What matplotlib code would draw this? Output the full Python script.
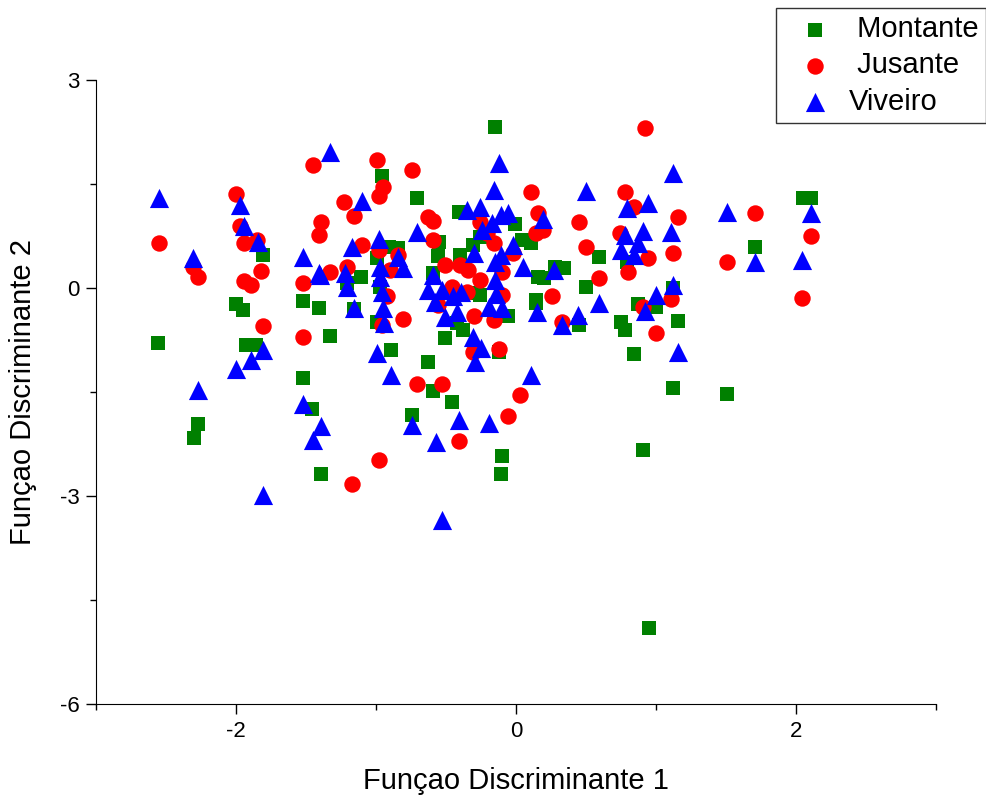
import numpy as np
import matplotlib
matplotlib.use("Agg")
from matplotlib import pyplot as plt
from matplotlib.ticker import MultipleLocator

plt.rcParams['font.family'] = ['Liberation Sans', 'DejaVu Sans']
plt.rcParams['axes.unicode_minus'] = False

# Escores das funcoes discriminantes por local
montante_x = [-2.56, -2.30, -2.27, -2.00, -1.95, -1.93, -1.86, -1.81, -1.52, -1.52,
              -1.46, -1.41, -1.39, -1.33, -1.16, -1.11, -1.21, -0.97, -0.99, -0.91,
              -0.84, -0.96, -0.71, -0.41, -0.15, -0.01, -0.56, -0.55, -0.40, -0.31,
              -0.26, -0.59, -0.28, -0.26, -0.99, -0.89, -0.63, -0.59, -0.46, -0.74,
              -0.51, -0.38, -0.42, -0.06, -0.12, -0.10, -0.11, 0.04, 0.11, 0.16,
              0.20, 0.28, 0.34, 0.50, 0.59, 0.79, 1.12, 0.14, 0.14, 0.45,
              0.87, 1.00, 0.75, 0.78, 1.16, 0.84, 1.12, 0.91, 0.95, 1.51,
              1.71, 2.05, 2.11]
montante_y = [-0.79, -2.16, -1.96, -0.23, -0.32, -0.82, -0.82, 0.48, -0.19, -1.30,
              -1.75, -0.29, -2.68, -0.69, -0.31, 0.16, 0.07, 0.01, 0.43, 0.59,
              0.57, 1.62, 1.30, 1.10, 2.32, 0.92, 0.46, 0.67, 0.48, 0.62,
              0.74, 0.21, -0.07, -0.10, -0.49, -0.89, -1.07, -1.49, -1.64, -1.83,
              -0.72, -0.61, -0.50, -0.40, -0.92, -2.42, -2.68, 0.69, 0.65, 0.16,
              0.14, 0.30, 0.29, 0.01, 0.45, 0.38, 0.00, -0.17, -0.22, -0.53,
              -0.23, -0.27, -0.49, -0.61, -0.48, -0.95, -1.44, -2.34, -4.90, -1.53,
              0.59, 1.30, 1.30]

jusante_x = [-2.55, -2.31, -2.27, -2.00, -1.97, -1.94, -1.85, -1.82, -1.94, -1.89,
             -1.81, -1.52, -1.52, -1.45, -1.39, -1.41, -1.33, -1.23, -1.16, -1.21,
             -1.10, -0.99, -0.95, -0.98, -0.74, -0.63, -0.59, -0.59, -0.98, -0.90,
             -0.84, -0.26, -0.21, -0.16, -0.02, -0.40, -0.34, -0.26, -0.51, -0.10,
             -0.46, -0.92, -0.96, -0.81, -0.56, -0.35, -0.30, -0.16, -0.31, -0.12,
             -0.10, -0.71, -0.53, -0.06, 0.03, -0.41, -0.98, -1.17, 0.11, 0.16,
             0.14, 0.19, 0.45, 0.50, 0.59, 0.26, 0.33, 0.92, 0.78, 0.84,
             1.16, 0.74, 0.94, 1.12, 0.80, 0.91, 1.11, 1.00, 1.51, 1.71,
             2.11, 2.04]
jusante_y = [0.65, 0.30, 0.16, 1.36, 0.90, 0.65, 0.69, 0.25, 0.10, 0.04,
             -0.55, -0.71, 0.07, 1.77, 0.95, 0.76, 0.23, 1.24, 1.04, 0.30,
             0.62, 1.85, 1.46, 1.33, 1.70, 1.02, 0.97, 0.69, 0.55, 0.26,
             0.48, 0.95, 0.79, 0.65, 0.50, 0.33, 0.26, 0.12, 0.33, 0.23,
             0.01, -0.12, -0.53, -0.45, -0.25, -0.06, -0.40, -0.46, -0.92, -0.88,
             -0.10, -1.38, -1.38, -1.85, -1.54, -2.21, -2.48, -2.82, 1.38, 1.08,
             0.79, 0.84, 0.95, 0.59, 0.14, -0.12, -0.49, 2.31, 1.38, 1.17,
             1.02, 0.79, 0.43, 0.50, 0.23, -0.27, -0.16, -0.65, 0.38, 1.08,
             0.75, -0.15]

viveiro_x = [-2.55, -2.31, -1.97, -1.94, -1.84, -2.27, -2.00, -1.89, -1.81, -1.81,
             -1.52, -1.41, -1.33, -1.52, -1.39, -1.45, -1.10, -1.17, -1.22, -1.21,
             -1.16, -0.98, -0.97, -0.97, -0.81, -0.84, -0.96, -0.95, -0.94, -0.99,
             -0.89, -0.74, -0.57, -0.53, -0.41, -0.19, -0.71, -0.35, -0.26, -0.12,
             -0.16, -0.11, -0.06, -0.17, -0.24, -0.02, -0.30, -0.15, -0.11, -0.59,
             -0.15, -0.63, -0.53, -0.39, -0.45, -0.14, -0.58, -0.51, -0.42, -0.19,
             -0.10, -0.31, -0.25, -0.29, 0.05, 0.19, 0.27, 0.50, 0.79, 0.94,
             1.12, 0.78, 0.91, 1.11, 0.87, 0.75, 0.84, 0.15, 0.44, 0.33,
             0.59, 0.92, 1.00, 1.12, 1.16, 0.11, 1.51, 1.71, 2.04, 2.11,
             -1.40]
viveiro_y = [1.30, 0.43, 1.20, 0.90, 0.66, -1.47, -1.17, -1.04, -0.89, -2.99,
             0.45, 0.22, 1.96, -1.67, -1.99, -2.19, 1.25, 0.59, 0.22, 0.01,
             -0.29, 0.70, 0.30, 0.16, 0.29, 0.45, -0.06, -0.29, -0.50, -0.94,
             -1.25, -1.98, -2.22, -3.35, -1.90, -1.95, 0.81, 1.13, 1.17, 1.80,
             1.41, 1.05, 1.08, 0.94, 0.84, 0.62, 0.50, 0.38, 0.48, 0.19,
             0.12, -0.03, -0.03, -0.06, -0.12, -0.08, -0.20, -0.42, -0.35, -0.27,
             -0.29, -0.70, -0.87, -1.07, 0.30, 0.99, 0.26, 1.40, 1.15, 1.23,
             1.66, 0.76, 0.82, 0.81, 0.65, 0.55, 0.48, -0.34, -0.39, -0.53,
             -0.22, -0.33, -0.10, 0.04, -0.92, -1.25, 1.10, 0.38, 0.40, 1.08,
             0.19]

fig = plt.figure(figsize=(9.87, 7.96), dpi=100)
ax = fig.add_axes([0.0973, 0.1156, 0.8511, 0.7839])

p1 = ax.scatter(montante_x, montante_y, marker='s', color='#008000', s=110, linewidths=0, zorder=3)
p2 = ax.scatter(jusante_x, jusante_y, marker='o', color='#FF0000', s=140, linewidths=0, zorder=4)
p3 = ax.scatter(viveiro_x, viveiro_y, marker='^', color='#0000FF', s=190, linewidths=0, zorder=5)

ax.set_xlim(-3, 3)
ax.set_ylim(-6, 3)
ax.set_xticks([-2, 0, 2])
ax.set_yticks([-6, -3, 0, 3])
ax.xaxis.set_minor_locator(MultipleLocator(1))
ax.yaxis.set_minor_locator(MultipleLocator(1.5))
ax.tick_params(which='major', direction='out', length=7, width=1, labelsize=16, pad=5)
ax.tick_params(which='minor', direction='out', length=4, width=1)
ax.spines['top'].set_visible(False)
ax.spines['right'].set_visible(False)

ax.set_xlabel(u'Funçao Discriminante 1', fontsize=21, labelpad=18)
ax.set_ylabel(u'Funçao Discriminante 2', fontsize=21, labelpad=16)

leg = fig.legend((p1, p2, p3), (' Montante', ' Jusante', 'Viveiro'), loc='upper right',
                 bbox_to_anchor=(0.999, 0.99), fontsize=21, frameon=True, fancybox=False,
                 edgecolor='black', handlelength=2.14, handletextpad=0.1, borderpad=0.25,
                 labelspacing=0.28, borderaxespad=0.0, scatterpoints=1, markerscale=1.0)
leg.get_frame().set_linewidth(1)

plt.savefig('out.png', dpi=100)
